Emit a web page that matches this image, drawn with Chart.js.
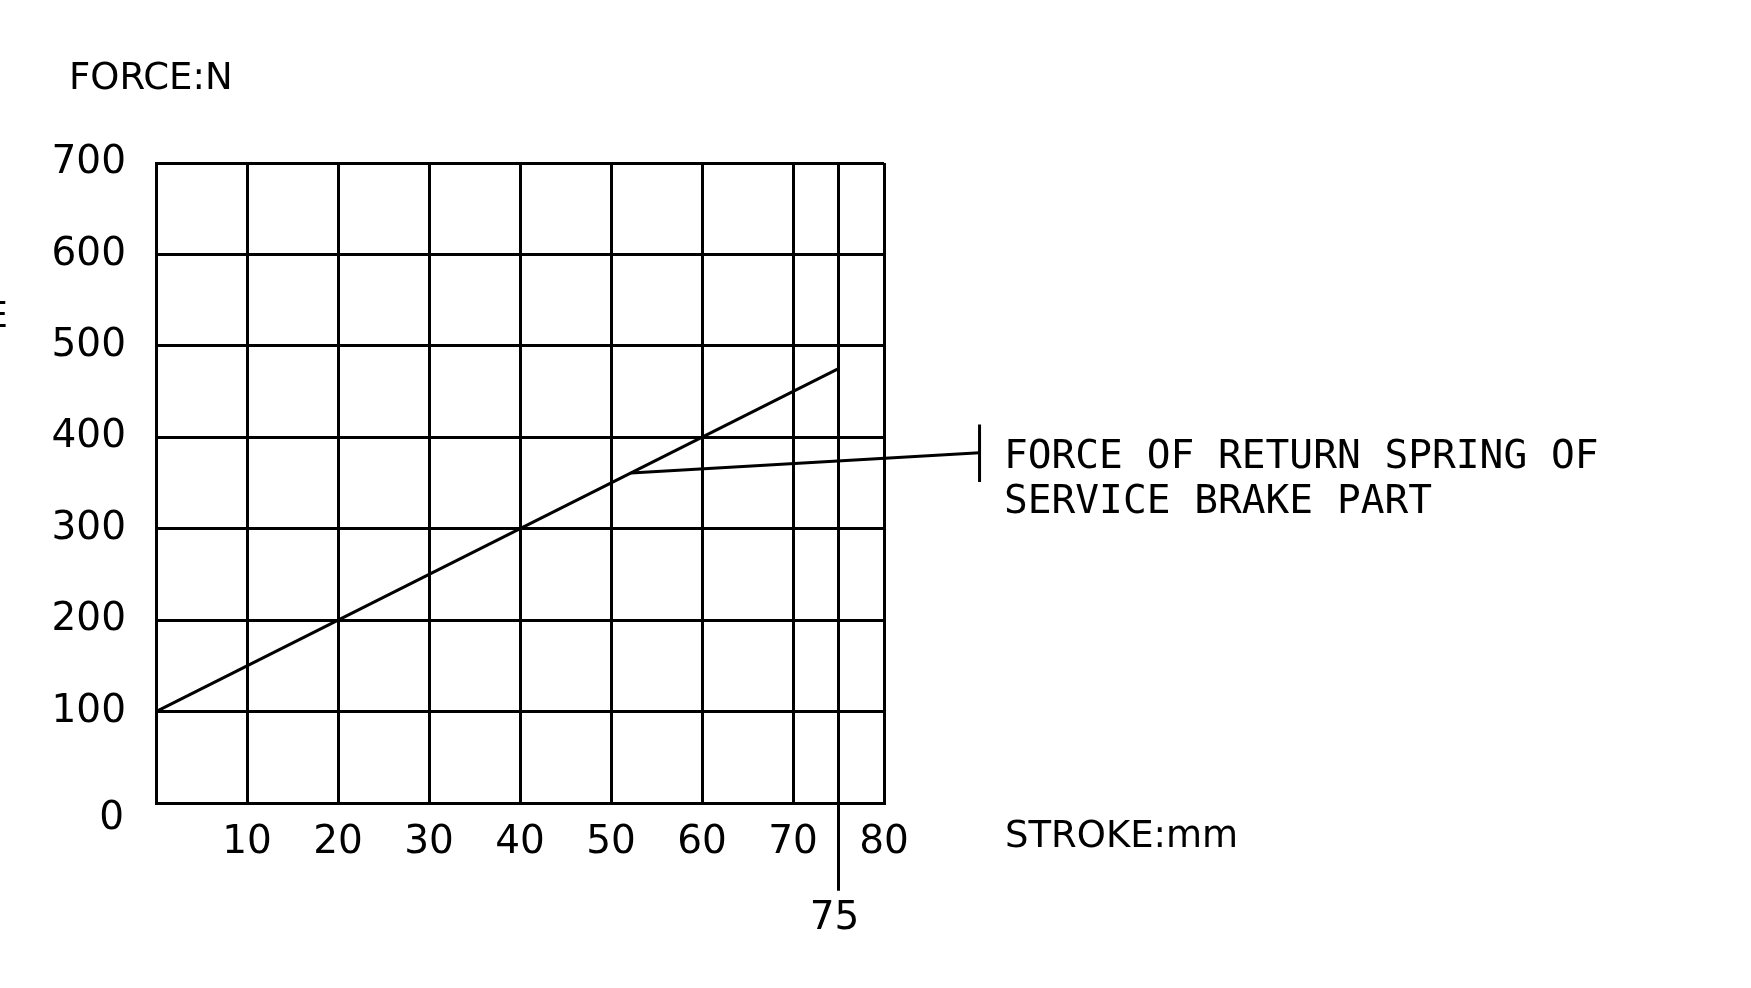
<!DOCTYPE html>
<html lang="en">
<head>
    <meta charset="UTF-8">
    <title>Force of return spring</title>
    <script src="https://cdn.jsdelivr.net/npm/chart.js"></script>
    <style>
        body { margin: 0; background: #fff; }
        #forceChart { display: block; }
    </style>
</head>
<body>
    <canvas id="forceChart" width="1751" height="988" style="width:1751px;height:988px"></canvas>

    <script>
        // Data
        const strokeMm = [0, 75];
        const forceN = [100, 475];

        // Leader line from the curve to the note, with its end bar
        const leaderX = [52.2, 90.5];
        const leaderY = [361, 383];
        const barX = [90.5, 90.5];
        const barY = [414, 351];

        // The 75 mm mark runs from the top of the grid down past the axis
        const markX = [75, 75];
        const markY = [700, -96];

        const xTicks = [0, 10, 20, 30, 40, 50, 60, 70, 80];
        const yTicks = [0, 100, 200, 300, 400, 500, 600, 700];

        const noteLines = ['FORCE OF RETURN SPRING OF', 'SERVICE BRAKE PART'];

        const toPoints = (xs, ys) => xs.map((x, i) => ({ x: x, y: ys[i] }));

        const lineStyle = {
            showLine: true,
            borderColor: '#000',
            borderWidth: 3,
            pointRadius: 0,
            fill: false,
            clip: false
        };

        // Texts that sit outside the axes
        const labelsPlugin = {
            id: 'labels',
            afterDraw(chart) {
                const c = chart.ctx;
                const xs = chart.scales.x;
                const ys = chart.scales.y;
                c.save();
                c.fillStyle = '#000';

                c.font = '37px "DejaVu Sans"';
                c.textBaseline = 'middle';
                c.textAlign = 'left';
                c.fillText('FORCE:N', 69, 79);
                c.fillText('STROKE:mm', 1005, 837);

                c.font = '39px "DejaVu Sans"';
                c.textAlign = 'right';
                c.fillText('0', 124, ys.getPixelForValue(0) + 16);
                c.textAlign = 'center';
                c.fillText('75', xs.getPixelForValue(75) - 4, 919);

                // cut-off glyph at the left edge
                c.textAlign = 'right';
                c.font = '36px "DejaVu Sans Mono"';
                c.fillText('E', 8, 318);

                // note lettering
                c.font = '39.5px "DejaVu Sans Mono"';
                c.textAlign = 'left';
                noteLines.forEach((t, i) => {
                    c.fillText(t, 1004, 458 + i * 45);
                });
                c.restore();
            }
        };

        const ctx = document.getElementById('forceChart').getContext('2d');
        new Chart(ctx, {
            type: 'scatter',
            data: {
                datasets: [
                    Object.assign({ data: toPoints(strokeMm, forceN) }, lineStyle),
                    Object.assign({ data: toPoints(leaderX, leaderY) }, lineStyle),
                    Object.assign({ data: toPoints(barX, barY) }, lineStyle),
                    Object.assign({ data: toPoints(markX, markY) }, lineStyle)
                ]
            },
            options: {
                responsive: false,
                animation: false,
                layout: { padding: { left: 0, top: 163, right: 867, bottom: 0 } },
                plugins: {
                    legend: { display: false },
                    tooltip: { enabled: false }
                },
                scales: {
                    x: {
                        type: 'linear',
                        min: 0,
                        max: 80,
                        afterBuildTicks: s => { s.ticks = xTicks.map(v => ({ value: v })); },
                        afterFit: s => { s.height = 185; },
                        ticks: {
                            color: '#000',
                            font: { family: 'DejaVu Sans', size: 39 },
                            padding: 16,
                            maxRotation: 0,
                            callback: v => (v === 0 ? '' : v)
                        },
                        grid: { color: '#000', lineWidth: 3, drawTicks: false },
                        border: { color: '#000', width: 3 }
                    },
                    y: {
                        min: 0,
                        max: 700,
                        afterBuildTicks: s => { s.ticks = yTicks.map(v => ({ value: v })); },
                        afterFit: s => { s.width = 156; },
                        ticks: {
                            color: '#000',
                            font: { family: 'DejaVu Sans', size: 39 },
                            padding: 30,
                            callback: v => (v === 0 ? '' : v)
                        },
                        grid: { color: '#000', lineWidth: 3, drawTicks: false },
                        border: { color: '#000', width: 3 }
                    }
                }
            },
            plugins: [labelsPlugin]
        });
    </script>
</body>
</html>
